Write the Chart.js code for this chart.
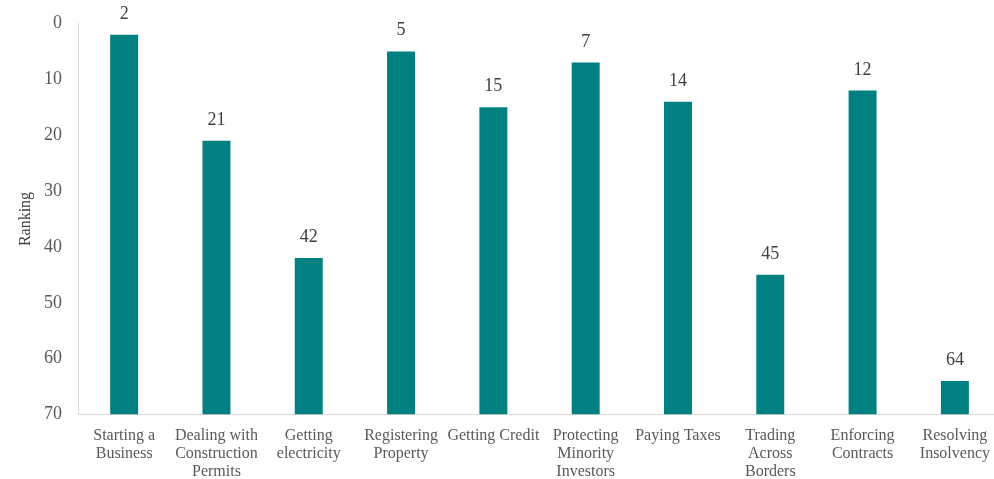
<!DOCTYPE html>
<html>
<head>
<meta charset="utf-8">
<script src="https://cdn.jsdelivr.net/npm/chart.js@4/dist/chart.umd.min.js"></script>
<style>
    html, body { margin: 0; padding: 0; background: #fff; overflow: hidden; }
    #wrap { width: 1002px; height: 479px; position: relative; }
</style>
</head>
<body>
<div id="wrap"><canvas id="chart"></canvas></div>
<script>
/* Doing Business rankings by indicator (lower is better) */
const categories = [
    ['Starting a', 'Business'],
    ['Dealing with', 'Construction', 'Permits'],
    ['Getting', 'electricity'],
    ['Registering', 'Property'],
    'Getting Credit',
    ['Protecting', 'Minority', 'Investors'],
    'Paying Taxes',
    ['Trading', 'Across', 'Borders'],
    ['Enforcing', 'Contracts'],
    ['Resolving', 'Insolvency'],
];
const rankings = [2, 21, 42, 5, 15, 7, 14, 45, 12, 64];
const axisMin = 0;
const axisMax = 70;

const SERIF = '"Liberation Serif", "Times New Roman", serif';

// Write each bar's value above its top end
const valueLabels = {
    id: 'valueLabels',
    afterDatasetsDraw(chart) {
        const { ctx } = chart;
        const meta = chart.getDatasetMeta(0);
        ctx.save();
        ctx.font = `18px ${SERIF}`;
        ctx.fillStyle = '#404040';
        ctx.textAlign = 'center';
        ctx.textBaseline = 'alphabetic';
        meta.data.forEach((bar, i) => {
            ctx.fillText(String(rankings[i]), bar.x, bar.y - 16);
        });
        ctx.restore();
    }
};

new Chart(document.getElementById('chart'), {
    type: 'bar',
    data: {
        labels: categories,
        datasets: [{
            data: rankings,
            base: axisMax,
            backgroundColor: '#008080',
            borderWidth: 0,
            categoryPercentage: 1,
            barPercentage: 0.303,
        }]
    },
    options: {
        responsive: true,
        maintainAspectRatio: false,
        animation: false,
        layout: { padding: { top: 23.5, left: 0, right: 0, bottom: 0 } },
        plugins: {
            legend: { display: false },
            tooltip: { enabled: false },
        },
        scales: {
            x: {
                grid: { display: false, drawTicks: false },
                border: { display: true, color: '#d9d9d9', width: 1 },
                ticks: {
                    color: '#595959',
                    font: { family: SERIF, size: 16, lineHeight: 1.125 },
                    padding: 12,
                    maxRotation: 0,
                    autoSkip: false,
                },
                afterFit(scale) { scale.height = 64.5; },
            },
            y: {
                reverse: true,
                min: axisMin,
                max: axisMax,
                grid: { display: false, drawTicks: false },
                border: { display: true, color: '#d9d9d9', width: 1 },
                ticks: {
                    stepSize: 10,
                    color: '#595959',
                    font: { family: SERIF, size: 18 },
                    padding: 16,
                },
                title: {
                    display: true,
                    text: 'Ranking',
                    color: '#404040',
                    font: { family: SERIF, size: 16 },
                    padding: { top: 16, bottom: 0 },
                },
                afterFit(scale) {
                    scale.width = 78;
                    // keep the plot edge at the layout padding, not the label half-height
                    scale.paddingTop = 0;
                    scale.paddingBottom = 0;
                },
            }
        }
    },
    plugins: [valueLabels]
});
</script>
</body>
</html>
